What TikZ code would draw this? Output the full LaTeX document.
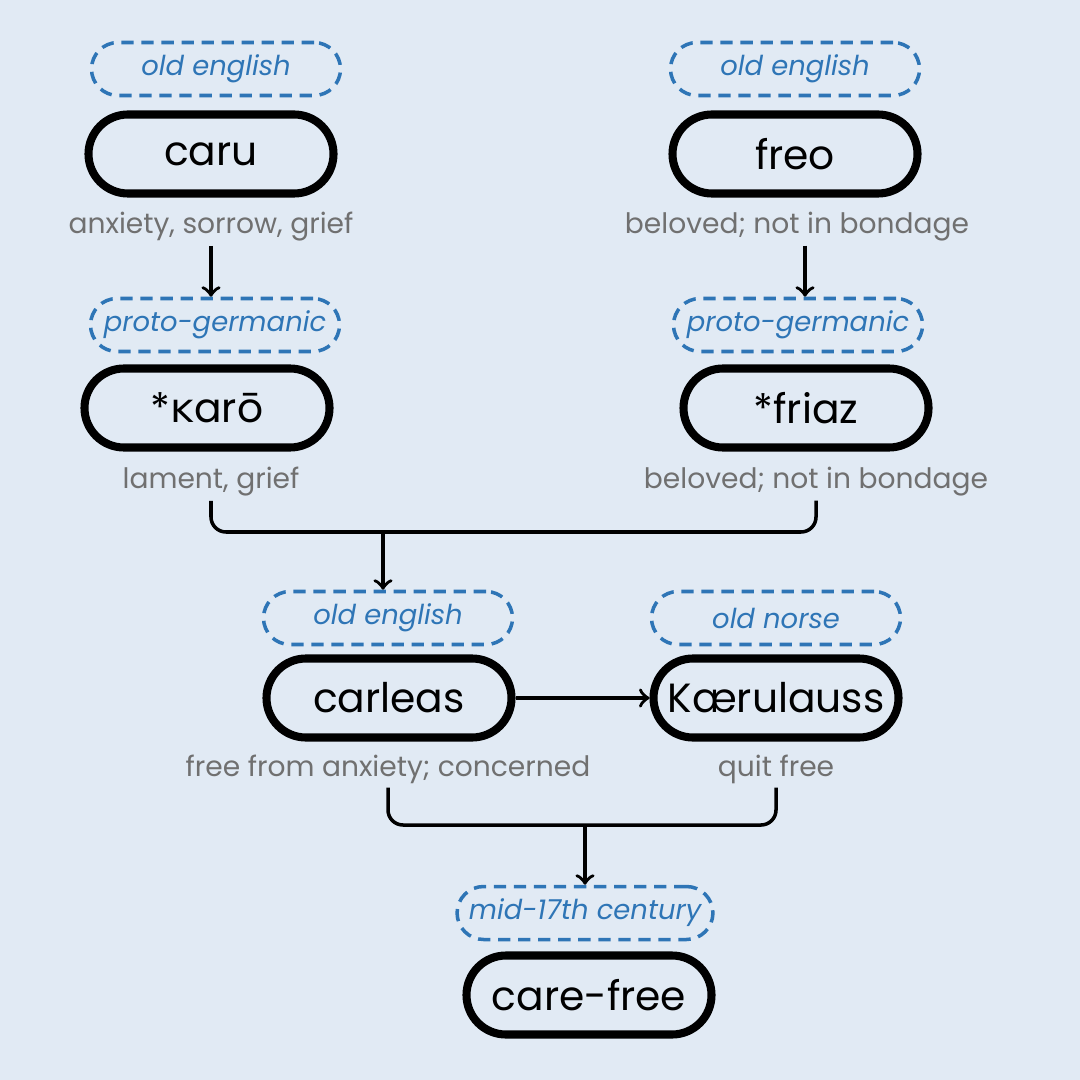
\documentclass[tikz,border=0pt]{standalone}
\usepackage{fontspec}
\setmainfont{Poppins}
\newfontfamily\kfont{DejaVu Sans}
\usetikzlibrary{positioning}
\definecolor{bgblue}{HTML}{E1EAF4}
\definecolor{eraBlue}{HTML}{2E75B6}
\definecolor{glossGray}{HTML}{707070}

\begin{document}
\begin{tikzpicture}[auto,
    word/.style ={draw, line width=2.3pt, rounded corners=0.395cm,
       minimum width=2.45cm, minimum height=0.79cm, font=\fontsize{11.6}{14}\selectfont},
    era/.style ={draw=eraBlue, text=eraBlue, dashed, line width=1pt,
       dash pattern=on 3.5pt off 2.2pt, rounded corners=0.265cm,
       minimum width=2.49cm, minimum height=0.53cm, font=\fontsize{7.8}{9}\selectfont\itshape},
    gloss/.style ={text=glossGray, inner sep=1pt, font=\fontsize{8}{10}\selectfont},
    link/.style ={line width=1pt, rounded corners=0.15cm}]
   \fill[bgblue] (0,0) rectangle (10.8,-10.8);
   \useasboundingbox (0,0) rectangle (10.8,-10.8);

   % left branch
   \node[era] (oeA) at (2.16,-0.69) {old english};
   \node[word] (caru) at (2.11,-1.54) {caru};
   \node[gloss] (gcaru) at (2.11,-2.27) {anxiety, sorrow, grief};
   \node[era] (pgA) at (2.15,-3.25) {proto-germanic};
   \node[word] (karo) at (2.07,-4.08) {*{\kfont ĸ}arō};
   \node[gloss] (gkaro) at (2.11,-4.82) {lament, grief};

   % right branch
   \node[era] (oeB) at (7.95,-0.69) {old english};
   \node[word] (freo) at (7.95,-1.54) {freo};
   \node[gloss] (gfreo) at (7.97,-2.27) {beloved; not in bondage};
   \node[era] (pgB) at (7.98,-3.25) {proto-germanic};
   \node[word] (friaz) at (8.06,-4.08) {*friaz};
   \node[gloss] (gfriaz) at (8.16,-4.82) {beloved; not in bondage};

   % middle row
   \node[era] (oeC) at (3.88,-6.18) {old english};
   \node[word] (carleas) at (3.89,-6.98) {carleas};
   \node[gloss] (gcarleas) at (3.88,-7.69) {free from anxiety; concerned};
   \node[era] (on) at (7.76,-6.18) {old norse};
   \node[word] (kaer) at (7.76,-6.98) {Kærulauss};
   \node[gloss] (gkaer) at (7.76,-7.69) {quit free};

   % result
   \node[era] (mid) at (5.85,-9.13) {mid-17th century};
   \node[word] (carefree) at (5.89,-9.95) {care-free};

   \coordinate (joinA) at (3.83,-5.32);
   \coordinate (joinB) at (5.85,-8.25);

   \draw[->, line width=1pt] (gcaru.south) to (gcaru.south |- pgA.north);
   \draw[->, line width=1pt] ([xshift=0.08cm]gfreo.south) to ([xshift=0.08cm]gfreo.south |- pgB.north);
   \draw[link] (gkaro.south) |- (joinA) -| (gfriaz.south);
   \draw[->, line width=1pt] (joinA) to (joinA |- oeC.north);
   \draw[->, line width=1pt] (carleas) to (kaer);
   \draw[link] (gcarleas.south) |- (joinB) -| (gkaer.south);
   \draw[->, line width=1pt] (joinB) to (mid.north);
 \end{tikzpicture}
\end{document}
